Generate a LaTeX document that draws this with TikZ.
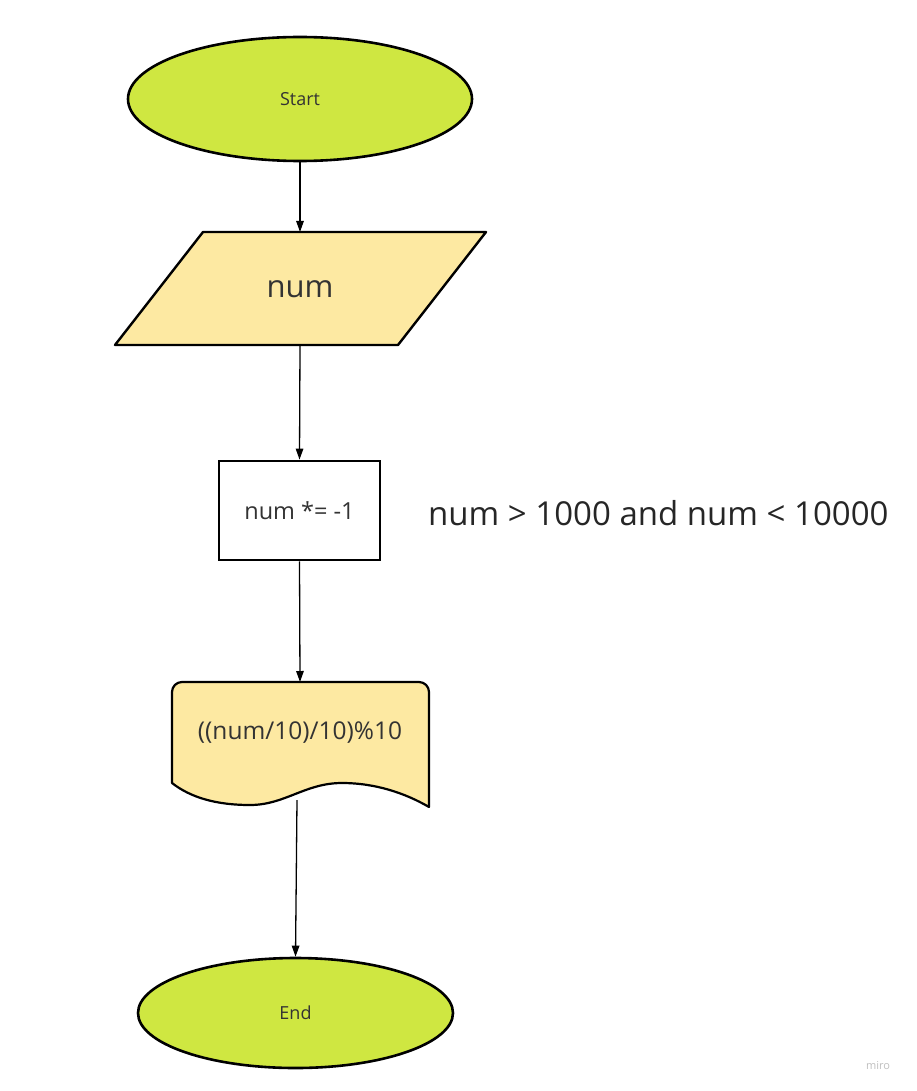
\documentclass[tikz,border=0pt]{standalone}
\usepackage{fontspec}
\setmainfont{Open Sans}
\usetikzlibrary{arrows.meta,shapes.geometric}
\definecolor{lime}{HTML}{CFE741}
\definecolor{sand}{HTML}{FDE9A2}
\definecolor{txt}{HTML}{333333}
\tikzset{
  term/.style={ellipse,draw=black,line width=2.6pt,fill=lime,text=txt,inner sep=0pt,font=\fontsize{18}{20}\selectfont},
  shapeline/.style={draw=black,line width=2.4pt,line join=round},
  lbl/.style={text=txt,inner sep=0pt},
  conn/.style={draw=black,line width=1.3pt,-{Triangle[length=11pt,width=7.5pt]}},
}
\begin{document}
\begin{tikzpicture}[x=1pt,y=-1pt]
\useasboundingbox (0,0) rectangle (916,1091);
% Start
\node[term,minimum width=344pt,minimum height=124pt] (start) at (300,99) {Start};
% input parallelogram
\path[shapeline,fill=sand] (203,232) -- (486,232) -- (398,345) -- (115,345) -- cycle;
\node[lbl,font=\fontsize{31}{34}\selectfont] (inp) at (300,289) {num};
\coordinate (inptop) at (300,232);
\coordinate (inpbot) at (300,345);
% process
\node[draw=black,line width=2.8pt,fill=white,minimum width=161pt,minimum height=99pt,text=txt,font=\fontsize{23.5}{26}\selectfont] (proc) at (299.5,510.5) {num *= -1};
% condition text
\node[anchor=west,inner sep=0pt,text=black!85,font=\fontsize{33}{36}\selectfont] (cond) at (428,513) {num > 1000 and num < 10000};
% document
\path[shapeline,line width=2.2pt,fill=sand] (172,783) -- (172,692) arc[start angle=180,end angle=270,radius=10] -- (419,682) arc[start angle=-90,end angle=0,radius=10] -- (429,807)
  .. controls (405,793) and (375,783) .. (342,783)
  .. controls (305,783) and (285,805) .. (250,805)
  .. controls (215,805) and (190,797) .. (172,783) -- cycle;
\node[lbl,font=\fontsize{24.5}{27}\selectfont] (doc) at (300,733) {((num/10)/10)\%10};
\coordinate (doctop) at (300,682);
\coordinate (docbot) at (297,800);
% End
\node[term,minimum width=315pt,minimum height=110pt] (end) at (295.5,1013) {End};
% connectors
\draw[conn] (start.south) -- (inptop);
\draw[conn] (inpbot) -- (proc.north);
\draw[conn] (proc.south) -- (doctop);
\draw[conn] (docbot) -- (end.north);
% watermark
\node[text=black!25,inner sep=0pt,font=\fontsize{11}{12}\selectfont] (miro) at (878,1066) {miro};
\end{tikzpicture}
\end{document}
